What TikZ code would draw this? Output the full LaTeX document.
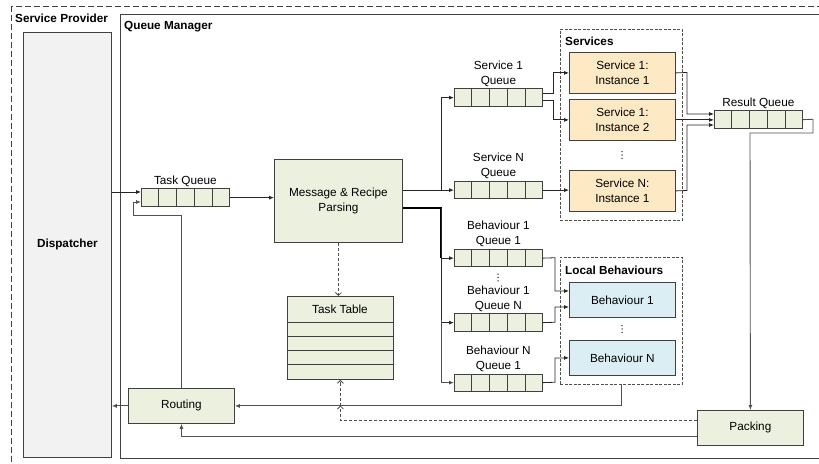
\documentclass[tikz,border=0pt]{standalone}
\usepackage{fontspec}
\setmainfont{Liberation Sans}
\usetikzlibrary{arrows.meta,calc}
\definecolor{grn}{HTML}{EBF1DE}
\definecolor{org}{HTML}{FDE9C4}
\definecolor{blu}{HTML}{DAEEF3}
\definecolor{gry}{HTML}{F2F2F2}
\definecolor{edge}{HTML}{404040}
\definecolor{lnk}{HTML}{262626}
\definecolor{glnk}{HTML}{505050}
\tikzset{
  txt/.style={font=\fontsize{11.8}{15}\selectfont},
  box/.style={draw=edge, line width=0.8bp, anchor=north west, inner sep=0pt, align=center, txt},
  qbox/.style={box, fill=grn, minimum width=88bp, minimum height=17.5bp},
  lbl/.style={inner sep=0pt, align=center, txt},
  blbl/.style={inner sep=0pt, anchor=west, font=\fontsize{11.8}{15}\selectfont\bfseries},
  conn/.style={draw=lnk, line width=0.8bp, -{Latex[length=5bp,width=4bp]}},
  gconn/.style={draw=glnk, line width=0.9bp, -{Latex[length=5bp,width=4bp]}},
  thk/.style={draw=black, line width=1.6bp},
  dconn/.style={draw=glnk, line width=0.8bp, dash pattern=on 3bp off 2bp, -{Straight Barb[length=3bp,width=6bp]}},
  grp/.style={draw=glnk, line width=0.8bp, dash pattern=on 3bp off 1.5bp},
  vdot/.style={fill=lnk},
}
\newcommand{\qq}[3]{%
  \node[qbox] (#1) at (#2,#3) {};
  \foreach \k in {1,2,3,4}{\draw[draw=edge, line width=0.8bp] ($(#1.north west)!\k/5!(#1.north east)$) -- ($(#1.south west)!\k/5!(#1.south east)$);}%
}
\newcommand{\threedots}[3]{% name x y
  \coordinate (#1) at (#2,#3);
  \foreach \d in {-3.3,0,3.3}{\fill[vdot] ($(#1)+(0,\d)$) circle (0.75bp);}%
}
\begin{document}
\begin{tikzpicture}[x=1bp, y=-1bp]
\useasboundingbox (0,0) rectangle (819,464);
\clip (0,0) rectangle (819,464);
\fill[white] (0,0) rectangle (819,464);

% containers
\draw[draw=edge, line width=0.8bp, dash pattern=on 6bp off 3bp] (11,6) rectangle (830,475);
\node[blbl] (sp) at (15,18) {Service Provider};
\node[box, fill=gry, minimum width=88bp, minimum height=425bp] (disp) at (23,32) {\bfseries Dispatcher};
\node[box, minimum width=710bp, minimum height=444bp] (qm) at (120,14) {};
\node[blbl] (qml) at (124,27) {Queue Manager};

% groups
\node[box, grp, minimum width=122bp, minimum height=191bp] (svc) at (560,29) {};
\node[blbl] (svcl) at (565,41) {Services};
\node[box, grp, minimum width=122bp, minimum height=127bp] (lb) at (560,257) {};
\node[blbl] (lbl) at (565,270) {Local Behaviours};

% boxes
\node[box, fill=grn, minimum width=128bp, minimum height=83bp] (mrp) at (274,159) {Message \& Recipe\\Parsing};
\node[box, fill=grn, minimum width=106bp, minimum height=83bp] (tt) at (287,296) {};
\node[lbl] (ttl) at (340,309) {Task Table};
\foreach \yy in {322,336,350,364} \draw[draw=edge, line width=0.8bp] (tt.west |- 0,\yy) -- (tt.east |- 0,\yy);
\node[box, fill=grn, minimum width=106bp, minimum height=35bp] (rout) at (128,388) {Routing};
\node[box, fill=grn, minimum width=106bp, minimum height=35bp] (pack) at (697,410) {Packing};

\node[box, fill=org, minimum width=106bp, minimum height=41bp] (si1) at (569,52) {Service 1:\\Instance 1};
\node[box, fill=org, minimum width=106bp, minimum height=41bp] (si2) at (569,99) {Service 1:\\Instance 2};
\threedots{sdots}{622}{155}
\node[box, fill=org, minimum width=106bp, minimum height=41bp] (sn) at (569,170) {Service N:\\Instance 1};

\node[box, fill=blu, minimum width=106bp, minimum height=35bp] (b1) at (569,282) {Behaviour 1};
\threedots{bdots}{622}{329}
\node[box, fill=blu, minimum width=106bp, minimum height=35bp] (bn) at (569,340) {Behaviour N};

% queues
\qq{tq}{141}{188.5}
\qq{s1q}{454}{88.5}
\qq{snq}{454}{181}
\qq{b11q}{454}{249}
\qq{b1nq}{454}{313.5}
\qq{bn1q}{454}{373.5}
\qq{rq}{714}{110.5}
\node[lbl, anchor=south] (tql) at ($(tq.north)+(0,-2)$) {Task Queue};
\node[lbl, anchor=south] (s1ql) at ($(s1q.north)+(0,-2)$) {Service 1\\Queue};
\node[lbl, anchor=south] (snql) at ($(snq.north)+(0,-2)$) {Service N\\Queue};
\node[lbl, anchor=south] (b11ql) at ($(b11q.north)+(0,-2)$) {Behaviour 1\\Queue 1};
\threedots{qdots}{498}{277.5}
\node[lbl, anchor=south] (b1nql) at ($(b1nq.north)+(0,-2)$) {Behaviour 1\\Queue N};
\node[lbl, anchor=south] (bn1ql) at ($(bn1q.north)+(0,-2)$) {Behaviour N\\Queue 1};
\node[lbl, anchor=south] (rql) at ($(rq.north)+(0,-2)$) {Result Queue};

% connectors
\draw[conn] (disp.east |- 0,192) -- (tq.west |- 0,192);
\draw[gconn] (rout.north) |- (133,215) |- (tq.west |- 0,202);
\draw[conn] (tq.east) -- (mrp.west |- tq.east);
\draw[conn] (mrp.east |- snq.west) -- (snq.west);
\draw[conn] (441,189.75) |- (s1q.west);
\draw[thk] (mrp.east |- 0,208) -| (441,258);
\draw[conn] (441,208) |- (b11q.west);
\draw[conn] (441,250) |- (b1nq.west);
\draw[gconn] (441,320) |- (bn1q.west);

\draw[conn] (s1q.east |- 0,93.75) -- (553,93.75) |- (si1.west);
\draw[conn] (s1q.east |- 0,100.75) -- (553,100.75) |- (si2.west);
\draw[conn] (snq.east) -- (sn.west |- snq.east);

\draw[conn] (si1.east) -- (687,72.5) |- (rq.west |- 0,114);
\draw[conn] (si2.east) -- (rq.west |- si2.east);
\draw[conn] (sn.east) -- (687,190.5) |- (rq.west |- 0,125);
\draw[gconn] (rq.east) -- (813,119.25) |- (750,133) -- (pack.north);

\draw[conn] (b11q.east) -- (555,257.75) |- (b1.west |- 0,291);
\draw[conn] (b1nq.east) -- (555,322.25) |- (b1.west |- 0,307);
\draw[conn] (bn1q.east) -- (555,382.25) |- (bn.west);

\draw[gconn] (lb.south) |- (rout.east);
\draw[gconn] (rout.west) -- (disp.east |- rout.west);
\draw[gconn] (pack.west |- 0,436) -| (rout.south);
\draw[dconn] (pack.west |- 0,420) -| (tt.south |- 0,405.5);
\draw[dconn] (tt.south |- 0,405.5) -- (tt.south);
\draw[dconn] (mrp.south) -- (mrp.south |- tt.north);
\end{tikzpicture}
\end{document}
